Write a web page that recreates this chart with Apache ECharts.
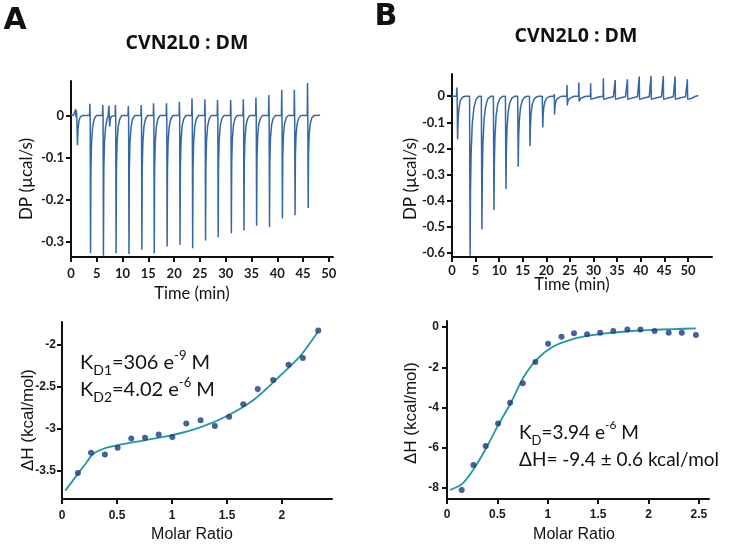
<!DOCTYPE html>
<html><head><meta charset="utf-8">
<script src="https://cdn.jsdelivr.net/npm/echarts@6/dist/echarts.min.js"></script>
<style>html,body{margin:0;padding:0;background:#fff}#c{width:733px;height:544px}</style>
</head><body><div id="c"></div>
<script>
// ---------- data ----------
const timeTicks = [0,5,10,15,20,25,30,35,40,45,50];
const dpTicksA = [0,-0.1,-0.2,-0.3];
const dpTicksB = [0,-0.1,-0.2,-0.3,-0.4,-0.5,-0.6];
const ratioTicksA = [0,0.5,1,1.5,2];
const dhTicksA = [-2,-2.5,-3,-3.5];
const ratioTicksB = [0,0.5,1,1.5,2,2.5];
const dhTicksB = [0,-2,-4,-6,-8];

// raw thermogram A : [time (min), DP (µcal/s)]
const thermoA = [
[0,0.002],[0.5,0.001],[0.8,0.004],[0.9,0.015],[0.97,-0.004],[1.05,0.012],[1.12,0],[1.25,-0.07],[1.38,-0.03],[1.55,-0.012],[1.8,-0.003],[2.2,0],
[3.6,0],[3.66,0.028],[3.72,0],[3.79,-0.326],[3.86,-0.13],[3.98,-0.065],[4.2,-0.026],[4.5,-0.008],[4.9,0],
[6.1,0],[6.16,0.025],[6.22,0],[6.29,-0.332],[6.36,-0.133],[6.48,-0.066],[6.7,-0.027],[7.0,-0.008],[7.2,0],
[7.35,0.024],[7.42,0],[7.5,-0.026],[7.6,-0.01],[7.8,-0.002],[8.0,0],
[8.55,0],[8.61,0.025],[8.67,0],[8.74,-0.326],[8.81,-0.13],[8.93,-0.065],[9.15,-0.026],[9.45,-0.008],[9.85,0],
[11.05,0],[11.11,0.023],[11.17,0],[11.24,-0.328],[11.31,-0.131],[11.43,-0.066],[11.65,-0.026],[11.95,-0.008],[12.35,0],
[13.55,0],[13.61,0.025],[13.67,0],[13.74,-0.318],[13.81,-0.127],[13.93,-0.064],[14.15,-0.025],[14.45,-0.008],[14.85,0],
[15.95,0],[16.01,0.029],[16.07,0],[16.14,-0.326],[16.21,-0.13],[16.33,-0.065],[16.55,-0.026],[16.85,-0.008],[17.25,0],
[18.45,0],[18.51,0.029],[18.57,0],[18.64,-0.31],[18.71,-0.124],[18.83,-0.062],[19.05,-0.025],[19.35,-0.008],[19.75,0],
[20.95,0],[21.01,0.033],[21.07,0],[21.14,-0.306],[21.21,-0.122],[21.33,-0.061],[21.55,-0.024],[21.85,-0.008],[22.25,0],
[23.4,0],[23.46,0.041],[23.52,0],[23.59,-0.314],[23.66,-0.126],[23.78,-0.063],[24.0,-0.025],[24.3,-0.008],[24.7,0],
[25.9,0],[25.96,0.039],[26.02,0],[26.09,-0.296],[26.16,-0.118],[26.28,-0.059],[26.5,-0.024],[26.8,-0.007],[27.2,0],
[28.35,0],[28.41,0.037],[28.47,0],[28.54,-0.288],[28.61,-0.115],[28.73,-0.058],[28.95,-0.023],[29.25,-0.007],[29.65,0],
[30.9,0],[30.96,0.037],[31.02,0],[31.09,-0.279],[31.16,-0.112],[31.28,-0.056],[31.5,-0.022],[31.8,-0.007],[32.2,0],
[33.35,0],[33.41,0.039],[33.47,0],[33.54,-0.272],[33.61,-0.109],[33.73,-0.054],[33.95,-0.022],[34.25,-0.007],[34.65,0],
[35.8,0],[35.86,0.043],[35.92,0],[35.99,-0.261],[36.06,-0.104],[36.18,-0.052],[36.4,-0.021],[36.7,-0.007],[37.1,0],
[38.3,0],[38.36,0.049],[38.42,0],[38.49,-0.264],[38.56,-0.106],[38.68,-0.053],[38.9,-0.021],[39.2,-0.007],[39.6,0],
[40.8,0],[40.86,0.061],[40.92,0],[40.99,-0.244],[41.06,-0.098],[41.18,-0.049],[41.4,-0.02],[41.7,-0.006],[42.1,0],
[43.25,0],[43.31,0.061],[43.37,0],[43.44,-0.236],[43.51,-0.094],[43.63,-0.047],[43.85,-0.019],[44.15,-0.006],[44.55,0],
[45.8,0],[45.86,0.077],[45.92,0],[45.99,-0.219],[46.06,-0.088],[46.18,-0.044],[46.4,-0.018],[46.7,-0.005],[47.1,0],
[48.3,0.001]
];

// raw thermogram B : [time (min), DP (µcal/s)]
const thermoB = [
[0,0],[0.95,0],[1.02,0.033],[1.09,0],[1.18,-0.165],[1.28,-0.1],[1.45,-0.05],[1.75,-0.018],[2.2,-0.004],[2.8,0],
[3.72,0],[3.78,0.004],[3.84,-0.61],[3.92,-0.366],[4.05,-0.22],[4.3,-0.104],[4.65,-0.043],[5.1,-0.012],[5.7,0],
[6.22,0],[6.28,0.004],[6.34,-0.51],[6.42,-0.306],[6.55,-0.184],[6.8,-0.087],[7.15,-0.036],[7.6,-0.01],[8.2,0],
[8.77,0],[8.83,0.004],[8.89,-0.435],[8.97,-0.261],[9.1,-0.157],[9.35,-0.074],[9.7,-0.03],[10.15,-0.009],[10.75,0],
[11.32,0],[11.38,0.004],[11.44,-0.355],[11.52,-0.213],[11.65,-0.128],[11.9,-0.06],[12.25,-0.025],[12.7,-0.007],[13.3,0],
[13.92,0],[13.98,0.005],[14.04,-0.27],[14.12,-0.162],[14.25,-0.097],[14.5,-0.046],[14.85,-0.019],[15.3,-0.005],[15.9,0],
[16.42,0],[16.48,0.005],[16.54,-0.19],[16.62,-0.114],[16.75,-0.068],[17.0,-0.032],[17.35,-0.013],[17.8,-0.004],[18.4,0],
[19.12,0],[19.18,0.006],[19.24,-0.12],[19.32,-0.072],[19.45,-0.043],[19.7,-0.02],[20.05,-0.008],[20.5,-0.002],[21.1,0],
[21.62,0],[21.68,0.008],[21.74,-0.07],[21.82,-0.042],[21.95,-0.025],[22.2,-0.012],[22.55,-0.005],[23.0,-0.001],[23.6,0],
[24.32,0],[24.38,0.043],[24.44,-0.035],[24.55,-0.02],[24.8,-0.01],[25.2,-0.004],[25.9,0],
[26.82,0],[26.88,0.052],[26.94,-0.02],[27.05,-0.013],[27.3,-0.008],[27.7,-0.003],[28.4,0],
[29.32,0],[29.38,0.05],[29.44,-0.012],[29.8,-0.01],[30.5,-0.006],[31.3,-0.002],
[32.02,0],[32.08,0.069],[32.14,-0.012],[32.5,-0.01],[33.25,-0.006],[34.2,-0.002],
[34.52,0],[34.58,0.062],[34.64,-0.012],[35.0,-0.01],[35.75,-0.006],[36.75,-0.002],
[37.12,0],[37.18,0.065],[37.24,-0.012],[37.6,-0.01],[38.35,-0.006],[39.3,-0.002],
[39.62,0],[39.68,0.075],[39.74,-0.012],[40.1,-0.01],[40.85,-0.006],[41.8,-0.002],
[42.12,0],[42.18,0.077],[42.24,-0.012],[42.6,-0.01],[43.35,-0.006],[44.4,-0.002],
[44.72,0],[44.78,0.077],[44.84,-0.012],[45.2,-0.01],[45.95,-0.006],[46.9,-0.002],
[47.22,0],[47.28,0.075],[47.34,-0.012],[47.7,-0.01],[48.45,-0.006],[49.5,-0.002],
[49.82,0],[49.88,0.065],[49.94,-0.012],[50.3,-0.01],[50.8,-0.008],[51.5,-0.001],[52.2,0.003]
];

// integrated heats (dots) and fitted curves
const ratioA = [0.145,0.264,0.39,0.506,0.63,0.755,0.879,1.003,1.13,1.26,1.39,1.52,1.648,1.78,1.92,2.06,2.19,2.33];
const dhA    = [-3.53,-3.29,-3.31,-3.23,-3.12,-3.11,-3.07,-3.10,-2.94,-2.90,-2.97,-2.86,-2.71,-2.53,-2.42,-2.24,-2.16,-1.83];
const fitRatioA = [0.03,0.15,0.22,0.27,0.31,0.4,0.5,0.75,1.0,1.25,1.5,1.75,2.0,2.17,2.33];
const fitDhA    = [-3.74,-3.53,-3.41,-3.32,-3.28,-3.23,-3.2,-3.14,-3.08,-2.99,-2.85,-2.65,-2.35,-2.13,-1.84];

const ratioB = [0.146,0.262,0.384,0.507,0.626,0.752,0.877,1.003,1.136,1.26,1.39,1.52,1.65,1.79,1.92,2.06,2.20,2.33,2.47];
const dhB    = [-8.10,-6.86,-5.92,-4.79,-3.76,-2.80,-1.74,-0.83,-0.48,-0.31,-0.36,-0.28,-0.20,-0.12,-0.12,-0.20,-0.28,-0.28,-0.40];
const fitRatioB = [0.03,0.15,0.26,0.38,0.5,0.63,0.76,0.89,1.05,1.25,1.42,1.6,1.8,2.0,2.25,2.47];
const fitDhB    = [-8.1,-7.8,-7.1,-6.1,-4.95,-3.8,-2.5,-1.62,-0.98,-0.6,-0.42,-0.3,-0.21,-0.15,-0.1,-0.07];

// ---------- chart ----------
const zip = (xs, ys) => xs.map((x, i) => [x, ys[i]]);
const fmt = v => String(Math.round(v * 10) / 10);
const TOPFONT = 'Lato';
const BOTFONT = 'Liberation Sans';

function axis(gridIndex, min, max, ticks, font, size, weight) {
  return {
    type: 'value', gridIndex, min, max, scale: false,
    splitLine: { show: false },
    axisLine: { show: true, onZero: false, lineStyle: { color: '#111', width: 2 } },
    axisTick: { show: true, length: 5, inside: false, customValues: ticks, lineStyle: { color: '#111', width: 2 } },
    axisLabel: { show: true, customValues: ticks, formatter: fmt, color: '#1a1a1a',
                 fontFamily: font, fontSize: size, fontWeight: weight, margin: 8 }
  };
}

const xA = axis(0, 0, 50.8, timeTicks, TOPFONT, 13, 'bold'); xA.axisLabel.margin = 10;
const xB = axis(1, 0, 55.1, timeTicks, TOPFONT, 13, 'bold'); xB.axisLabel.margin = 7;
const xC = axis(2, 0, 2.455, ratioTicksA, BOTFONT, 12, 'bold'); xC.axisLabel.margin = 11;
const xD = axis(3, 0, 2.6, ratioTicksB, BOTFONT, 12, 'bold'); xD.axisLabel.margin = 10;
const yA = axis(0, -0.335, 0.082, dpTicksA, TOPFONT, 13, 'bold'); yA.axisLabel.margin = 7;
const yB = axis(1, -0.615, 0.085, dpTicksB, TOPFONT, 13, 'bold'); yB.axisLabel.margin = 7;
const yC = axis(2, -3.84, -1.73, dhTicksA, BOTFONT, 12, 'bold'); yC.axisLabel.margin = 6;
const yD = axis(3, -8.55, 0.3, dhTicksB, BOTFONT, 12, 'bold'); yD.axisLabel.margin = 8;

const traceColor = '#3566a6';
const fitColor = '#1f9aa0';
const dotColor = '#1a3a80';

function txt(x, y, text, font, size, weight, opts) {
  return Object.assign({
    type: 'text', x, y,
    style: { text, fontFamily: font, fontSize: size, fontWeight: weight, fill: '#111',
             align: 'center', verticalAlign: 'middle' }
  }, opts || {});
}
function vtxt(x, y, text, font, size) {
  return { type: 'text', x, y, rotation: Math.PI / 2,
    style: { text, fontFamily: font, fontSize: size, fill: '#111', align: 'center', verticalAlign: 'middle' } };
}
const rich = size => ({
  m: { fontFamily: TOPFONT, fontSize: size, lineHeight: 28, fill: '#111', verticalAlign: 'middle' },
  s: { fontFamily: TOPFONT, fontSize: Math.round(size * 0.68), lineHeight: 17, fill: '#111', verticalAlign: 'bottom' },
  p: { fontFamily: TOPFONT, fontSize: Math.round(size * 0.64), lineHeight: 15, fill: '#111', verticalAlign: 'top' }
});
function rtxt(x, y, text, size) {
  return { type: 'text', x, y, style: { text, rich: rich(size), align: 'left', verticalAlign: 'top' } };
}

const option = {
  animation: false,
  backgroundColor: '#fff',
  grid: [
    { left: 71, top: 81, width: 262, height: 176 },
    { left: 452, top: 74, width: 260, height: 183 },
    { left: 62, top: 322, width: 270, height: 177 },
    { left: 447, top: 321, width: 262, height: 178 }
  ],
  xAxis: [xA, xB, xC, xD],
  yAxis: [yA, yB, yC, yD],
  series: [
    { type: 'line', xAxisIndex: 0, yAxisIndex: 0, data: thermoA, showSymbol: false, symbol: 'none',
      lineStyle: { color: traceColor, width: 1.5 }, z: 3 },
    { type: 'line', xAxisIndex: 1, yAxisIndex: 1, data: thermoB, showSymbol: false, symbol: 'none',
      lineStyle: { color: traceColor, width: 1.5 }, z: 3 },
    { type: 'line', xAxisIndex: 2, yAxisIndex: 2, data: zip(fitRatioA, fitDhA), showSymbol: false, symbol: 'none',
      smooth: 0.25, lineStyle: { color: fitColor, width: 1.8 }, z: 3 },
    { type: 'scatter', xAxisIndex: 2, yAxisIndex: 2, data: zip(ratioA, dhA), symbolSize: 6,
      itemStyle: { color: dotColor }, z: 4 },
    { type: 'line', xAxisIndex: 3, yAxisIndex: 3, data: zip(fitRatioB, fitDhB), showSymbol: false, symbol: 'none',
      smooth: 0.3, lineStyle: { color: fitColor, width: 1.8 }, z: 3 },
    { type: 'scatter', xAxisIndex: 3, yAxisIndex: 3, data: zip(ratioB, dhB), symbolSize: 6,
      itemStyle: { color: dotColor }, z: 4 }
  ],
  graphic: [
    txt(15, 21, 'A', 'DejaVu Sans', 30, 'bold'),
    txt(386, 17, 'B', 'DejaVu Sans', 30, 'bold'),
    txt(187, 43, 'CVN2L0 : DM', 'Open Sans', 19.5, 'bold'),
    txt(576, 36, 'CVN2L0 : DM', 'Open Sans', 19.5, 'bold'),
    vtxt(27, 179, 'DP (µcal/s)', TOPFONT, 17),
    txt(192, 294, 'Time (min)', TOPFONT, 16.5, 'normal'),
    vtxt(411, 179, 'DP (µcal/s)', TOPFONT, 17),
    txt(572, 285, 'Time (min)', TOPFONT, 16.5, 'normal'),
    vtxt(28, 420, 'ΔH (kcal/mol)', BOTFONT, 17),
    txt(192, 535, 'Molar Ratio', BOTFONT, 16, 'normal'),
    vtxt(411, 413, 'ΔH (kcal/mol)', BOTFONT, 17),
    txt(574, 535, 'Molar Ratio', BOTFONT, 16, 'normal'),
    rtxt(80, 349, '{m|K}{s|D1}{m|=306 e}{p|-9}{m| M}', 20),
    rtxt(80, 376, '{m|K}{s|D2}{m|=4.02 e}{p|-6}{m| M}', 20),
    rtxt(519, 419, '{m|K}{s|D}{m|=3.94 e}{p|-6}{m| M}', 19),
    rtxt(519, 446, '{m|ΔH= -9.4 ± 0.6 kcal/mol}', 19)
  ]
};
const chart = echarts.init(document.getElementById('c'), null, { renderer: 'canvas' });
chart.setOption(option);
</script>
</body></html>
